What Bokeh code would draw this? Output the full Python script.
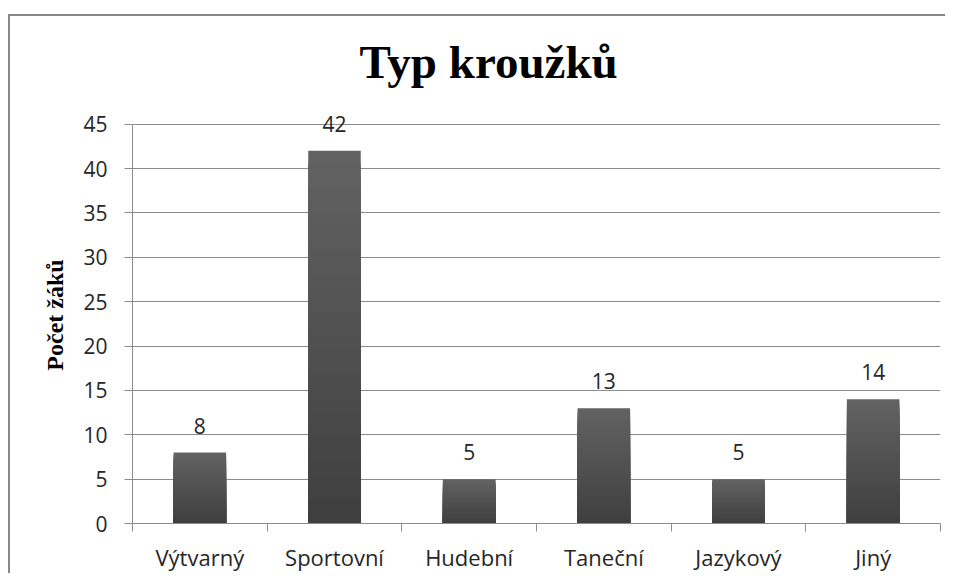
from bokeh.plotting import figure
from bokeh.models import (Range1d, LinearAxis, CategoricalAxis, FixedTicker, FactorRange,
                          LabelSet, ColumnDataSource)
from bokeh.core.properties import value
from bokeh.embed import file_html
from bokeh.resources import INLINE

categories = ["Výtvarný", "Sportovní", "Hudební", "Taneční", "Jazykový", "Jiný"]
counts = [8, 42, 5, 13, 5, 14]
count_labels = ["8", "42", "5", "13", "5", "14"]
y_ticks = [0, 5, 10, 15, 20, 25, 30, 35, 40, 45]
title_text = "Typ kroužků"
y_label = "Počet žáků"

GRID = "#8c8c8c"
TXT = "#262626"
FONT = "Open Sans"

# y range extends slightly past the last tick so the top value label is not clipped
p = figure(
    x_range=FactorRange(*categories, range_padding=0),
    y_range=Range1d(0, 47),
    width=937, height=559,
    output_backend="svg", toolbar_location=None,
    x_axis_location=None, y_axis_location="left",
    min_border_left=122, min_border_right=7,
    min_border_top=90, min_border_bottom=52,
)
p.styles = {"border-left": "2px solid #888888", "border-top": "2px solid #888888",
            "margin-top": "14px", "margin-left": "8px"}
p.outline_line_color = None
p.background_fill_color = "white"
p.border_fill_color = "white"

# title
p.title.text = title_text
p.title.text_font = "Liberation Serif"
p.title.text_font_style = "bold"
p.title.text_font_size = "47px"
p.title.text_color = "black"
p.title.align = "left"
p.title.vertical_align = "top"
p.title.offset = 227
p.title.standoff = 34

# y axis
yax = p.yaxis[0]
yax.ticker = FixedTicker(ticks=y_ticks)
yax.bounds = (0, 45)
yax.major_tick_out = 8
yax.major_tick_in = 0
yax.minor_tick_line_color = None
yax.axis_line_color = GRID
yax.major_tick_line_color = GRID
yax.major_label_text_font = FONT
yax.major_label_text_font_size = "21px"
yax.major_label_text_color = TXT
yax.major_label_standoff = 17
yax.axis_label = y_label
yax.axis_label_text_font = "Liberation Serif"
yax.axis_label_text_font_style = "bold"
yax.axis_label_text_font_size = "24px"
yax.axis_label_text_color = "black"
yax.axis_label_standoff = 12

p.ygrid.ticker = FixedTicker(ticks=y_ticks)
p.ygrid.grid_line_color = GRID
p.xgrid.visible = False

# x axis: boundary ticks (numeric positions on the factor range) + category labels
tick_axis = LinearAxis(ticker=FixedTicker(ticks=list(range(len(categories) + 1))),
                       major_label_text_font_size="0px", major_label_text_alpha=0,
                       major_tick_out=8, major_tick_in=0, minor_tick_line_color=None,
                       axis_line_color=GRID, major_tick_line_color=GRID,
                       major_label_standoff=0)
p.add_layout(tick_axis, "below")
cat_axis = CategoricalAxis(axis_line_color=None, major_tick_line_color=None,
                           minor_tick_line_color=None,
                           major_label_text_font=FONT, major_label_text_font_size="22px",
                           major_label_text_color=TXT, major_label_standoff=4)
p.add_layout(cat_axis, "below")

# bars with vertical gradient (light top, dark bottom)
N = 30
top_rgb = (98, 98, 98)
bot_rgb = (62, 62, 62)
for i in range(N):
    frac = (N - i) / N
    c = tuple(int(round(b + (t - b) * frac)) for t, b in zip(top_rgb, bot_rgb))
    p.vbar(x=categories, top=[v * frac for v in counts], width=0.39,
           fill_color="#%02x%02x%02x" % c, line_color=None)

src = ColumnDataSource(data=dict(cat=categories, val=counts, lab=count_labels))
labels = LabelSet(x="cat", y="val", text="lab", source=src, text_align="center",
                  text_baseline="alphabetic", y_offset=19, text_font=value(FONT),
                  text_font_size="21px", text_color=TXT)
p.add_layout(labels)

open("out.html", "w").write(file_html(p, INLINE))
